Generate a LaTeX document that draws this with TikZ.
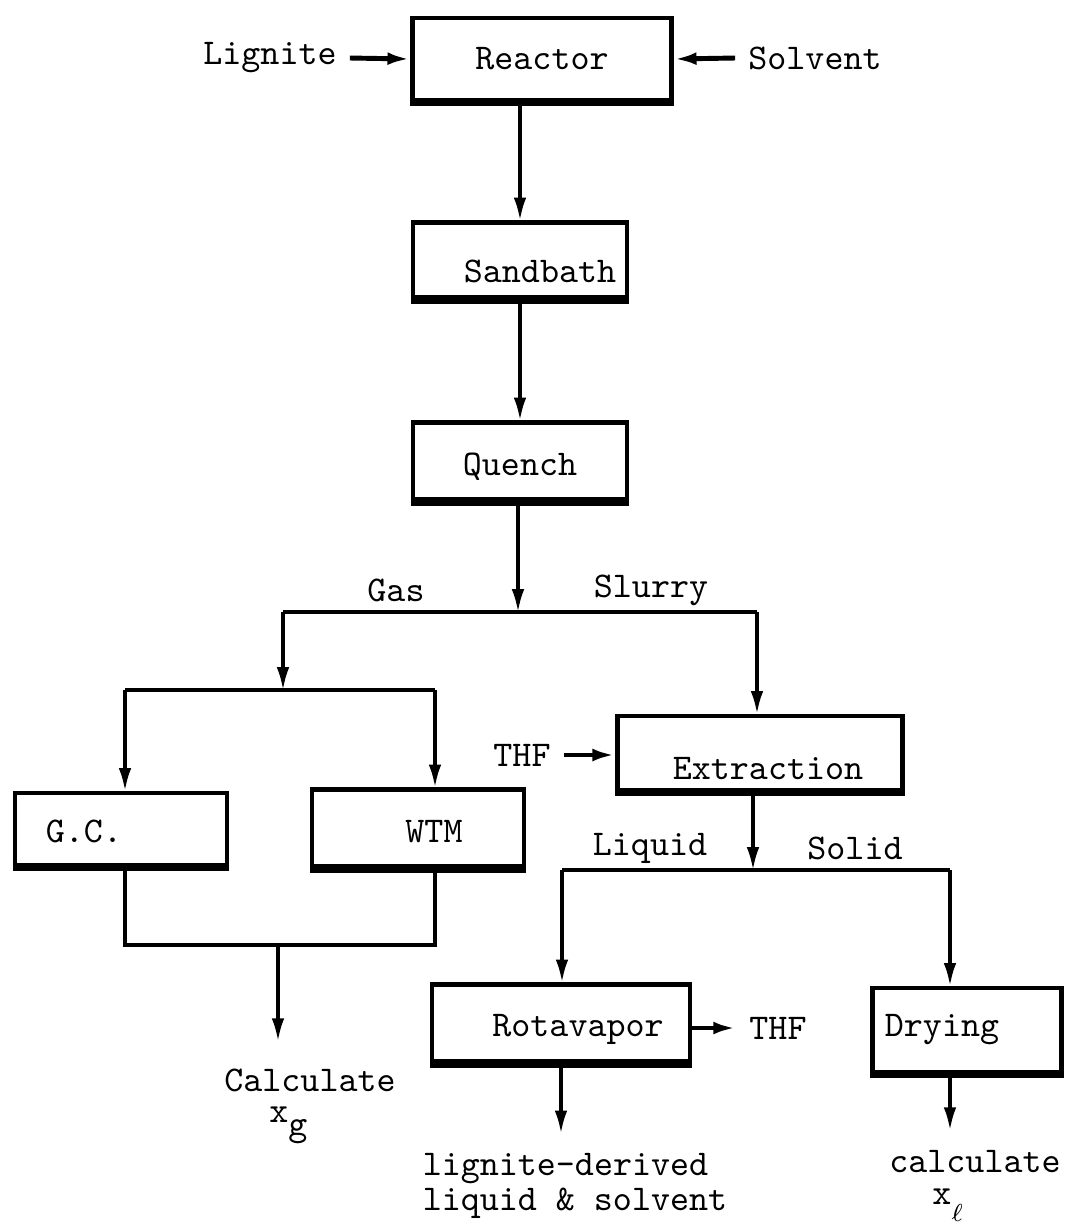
\documentclass[tikz,border=0pt]{standalone}
\usepackage{fontspec}
\usetikzlibrary{arrows.meta}

\begin{document}
\begin{tikzpicture}[x=0.01cm,y=-0.01cm,line width=0.9pt,
    font=\fontsize{10.3pt}{8pt}\selectfont\ttfamily,
    unit/.style={draw,line width=1.2pt,inner sep=0pt},
    tag/.style={align=center},
    result/.style={align=center,font=\fontsize{10.3pt}{9pt}\selectfont\ttfamily},
    flow/.style={-{Latex[length=6.5pt,width=3.6pt]}},
    feed/.style={flow,line width=1.4pt}]
    \useasboundingbox (0,0) rectangle (1065,1229);

    % process units
    \node[unit, minimum width=2.59cm, minimum height=0.82cm] at (542,59) (reactor) {Reactor};
    \node[unit, minimum width=2.14cm, minimum height=0.75cm, text height=0.45cm] at (520,260) (sandbath) {\hspace*{0.4cm}Sandbath};
    \node[unit, minimum width=2.14cm, minimum height=0.77cm, text height=0.33cm] at (520,461) (quench) {Quench};
    \node[unit, minimum width=2.12cm, minimum height=0.72cm, text width=1.5cm, align=left, text height=0.28cm] at (121,829) (gc) {G.C.};
    \node[unit, minimum width=2.12cm, minimum height=0.77cm, text height=0.3cm] at (418,828) (wtm) {\hspace*{0.32cm}WTM};
    \node[unit, minimum width=2.85cm, minimum height=0.74cm, text height=0.53cm] at (760,753) (extraction) {\hspace*{0.16cm}Extraction};
    \node[unit, minimum width=2.58cm, minimum height=0.77cm, text height=0.35cm] at (561,1023) (rotavapor) {\hspace*{0.34cm}Rotavapor};
    \node[unit, minimum width=1.89cm, minimum height=0.84cm, text width=1.64cm, align=left] at (967,1030) (drying) {Drying};
    \foreach \n in {reactor,sandbath,quench,gc,wtm,extraction,rotavapor,drying}
        \draw[line width=2.2pt] (\n.south west) -- (\n.south east);

    % streams and results
    \node[tag] at (270,58) (lignite) {Lignite};
    \node[tag] at (815,58) (solvent) {Solvent};
    \node[tag] at (396,590) (gas) {Gas};
    \node[tag] at (651,590) (slurry) {Slurry};
    \node[tag] at (522,755) (thfin) {THF};
    \node[tag] at (650,848) (liquid) {Liquid};
    \node[tag] at (855,848) (solid) {Solid};
    \node[tag] at (778,1028) (thfout) {THF};
    \node[result] at (310,1106) (calcg) {Calculate\\x\raisebox{-0.8ex}{g}\hspace*{1.2em}};
    \node[align=left] at (575,1186) (product) {lignite-derived\\liquid \& solvent};
    \node[result] at (975,1186) (calcl) {calculate\\\hspace*{-1.5em}x\raisebox{-1.1ex}{\scriptsize$\ell$}};

    % junctions
    \coordinate (qsplit) at (518,612);
    \coordinate (gasend) at (283,612);
    \coordinate (slurryend) at (757,612);
    \coordinate (gasbar) at (283,690);
    \coordinate (gcin) at (125,690);
    \coordinate (wtmin) at (435,690);
    \coordinate (gcout) at (125,945);
    \coordinate (wtmout) at (435,945);
    \coordinate (gasout) at (278,945);
    \coordinate (xsplit) at (753,870);
    \coordinate (liqend) at (562,870);
    \coordinate (solend) at (950,870);

    % connectors
    \draw[feed] (lignite.east) -- (reactor.west);
    \draw[feed] (solvent.west) -- (reactor.east);
    \draw[flow] (reactor.south -| sandbath.north) -- (sandbath.north);
    \draw[flow] (sandbath.south) -- (quench.north);
    \draw[flow] (quench.south -| qsplit) -- (qsplit);
    \draw (gasend) -- (slurryend);
    \draw[flow] (gasend) -- (gasbar);
    \draw (gcin) -- (wtmin);
    \draw[flow] (gcin) -- (gcin |- gc.north);
    \draw[flow] (wtmin) -- (wtmin |- wtm.north);
    \draw (gc.south -| gcin) -- (gcout) -- (wtmout) -- (wtm.south -| wtmout);
    \draw[flow] (gasout) -- ([yshift=4pt]gasout |- calcg.north);
    \draw[flow] (slurryend) -- (slurryend |- extraction.north);
    \draw[feed] (thfin.east) -- (thfin.east -| extraction.west);
    \draw[flow] (extraction.south -| xsplit) -- (xsplit);
    \draw (liqend) -- (solend);
    \draw[flow] (liqend) -- (liqend |- rotavapor.north);
    \draw[flow] (solend) -- (solend |- drying.north);
    \draw[feed] (rotavapor.east |- thfout) -- (thfout.west);
    \draw[flow] (rotavapor.south) -- ([yshift=2pt]rotavapor.south |- product.north);
    \draw[flow] (drying.south -| solend) -- ([yshift=2pt]solend |- calcl.north);
\end{tikzpicture}
\end{document}
